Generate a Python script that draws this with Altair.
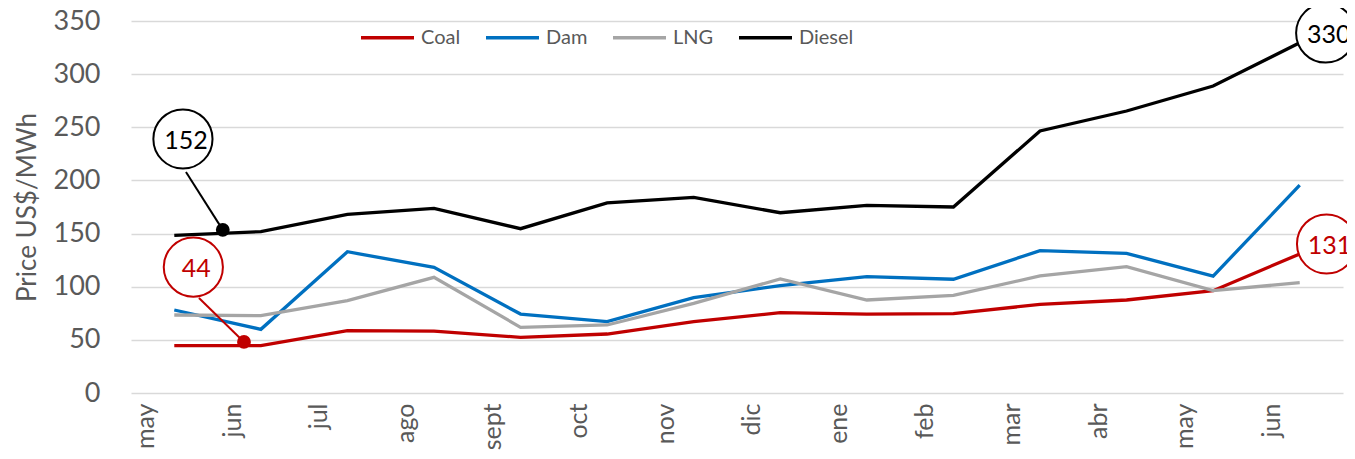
import json
import altair as alt
import pandas as pd

months = ["may", "jun", "jul", "ago", "sept", "oct", "nov", "dic", "ene", "feb", "mar", "abr", "may", "jun"]
series_names = ["Coal", "Dam", "LNG", "Diesel"]
series_colors = ["#C00000", "#0070C0", "#A5A5A5", "#000000"]

coal = [44.5, 44.5, 58.6, 58.3, 52.4, 55.5, 67.1, 75.6, 74.3, 74.6, 83.4, 87.5, 96.3, 130.8]
dam = [78.1, 59.9, 132.9, 118.2, 74.3, 67.1, 89.7, 101.0, 109.4, 107.0, 133.9, 131.4, 110.0, 195.5]
lng = [73.4, 72.8, 86.9, 108.8, 61.8, 64.0, 84.4, 107.3, 87.5, 91.9, 110.1, 118.9, 96.3, 103.8]
diesel = [148.3, 151.8, 168.1, 173.7, 154.6, 178.8, 184.1, 169.6, 176.6, 175.0, 246.5, 265.3, 288.8, 329.5]

# callout bubbles
callout_labels = ["152", "44", "330", "131"]
callout_colors = ["#000000", "#C00000", "#000000", "#C00000"]
callout_x = [0.10, 0.22, 13.30, 13.31]
callout_y = [239.0, 118.5, 338.7, 140.2]

# leader lines + dots
leader_colors = ["#000000", "#C00000"]
leader_x = [0.135, 0.285]
leader_y = [208.0, 89.4]
dot_x = [0.56, 0.805]
dot_y = [153.5, 48.0]

rows = []
for name, vals in zip(series_names, [coal, dam, lng, diesel]):
    for i, v in enumerate(vals):
        rows.append({"idx": i, "series": name, "value": v})
df = pd.DataFrame(rows)

callouts = pd.DataFrame({"x": callout_x, "y": callout_y, "label": callout_labels, "col": callout_colors})
leaders = pd.DataFrame({"x": leader_x, "y": leader_y, "x2": dot_x, "y2": dot_y, "col": leader_colors})

FONT = "Lato"
GRAY = "#595959"

xscale = alt.Scale(domain=[-0.5, 13.5], nice=False, zero=False)
yscale = alt.Scale(domain=[0, 350], nice=False)

label_expr = json.dumps(months) + "[round(datum.value + 0.33)]"

x_axis = alt.Axis(
    values=[i - 0.33 for i in range(len(months))],
    labelExpr=label_expr,
    labelAngle=-90, labelAlign="right", labelBaseline="middle",
    labelFont=FONT, labelFontSize=25, labelColor=GRAY, labelPadding=10,
    grid=False, ticks=False, domain=False, title=None, labelOverlap=False,
)
y_axis = alt.Axis(
    values=[0, 50, 100, 150, 200, 250, 300, 350],
    labelFont=FONT, labelFontSize=27, labelColor=GRAY, labelPadding=31,
    grid=True, gridColor="#D9D9D9", gridWidth=1.5,
    ticks=False, domain=False,
    title="Price US$/MWh", titleFont=FONT, titleFontSize=26, titleFontWeight="normal",
    titleColor=GRAY, titleAngle=-90, titleX=-91, titleY=186, titleAlign="center", titleBaseline="bottom",
)

lines = alt.Chart(df).mark_line(strokeWidth=3.3).encode(
    x=alt.X("idx:Q", scale=xscale, axis=x_axis),
    y=alt.Y("value:Q", scale=yscale, axis=y_axis),
    color=alt.Color(
        "series:N",
        scale=alt.Scale(domain=series_names, range=series_colors),
        legend=alt.Legend(
            orient="none", legendX=228, legendY=-12, direction="horizontal", title=None,
            symbolType="stroke", symbolSize=2809, symbolStrokeWidth=3.5,
            labelFont=FONT, labelFontSize=20, labelColor=GRAY, labelOffset=5,
            columnPadding=18,
        ),
    ),
    order=alt.Order("idx:Q"),
)

leader_rules = alt.Chart(leaders).mark_rule(strokeWidth=2).encode(
    x=alt.X("x:Q", scale=xscale), y=alt.Y("y:Q", scale=yscale),
    x2="x2:Q", y2="y2:Q",
    color=alt.Color("col:N", scale=None),
)

dots = alt.Chart(leaders).mark_point(filled=True, size=190, opacity=1).encode(
    x=alt.X("x2:Q", scale=xscale), y=alt.Y("y2:Q", scale=yscale),
    color=alt.Color("col:N", scale=None),
)

bubbles = alt.Chart(callouts).mark_point(shape="circle", size=3500, filled=False, fill="white",
                                          fillOpacity=1, strokeWidth=2, opacity=1).encode(
    x=alt.X("x:Q", scale=xscale), y=alt.Y("y:Q", scale=yscale),
    stroke=alt.Stroke("col:N", scale=None),
)

texts = alt.Chart(callouts).mark_text(font=FONT, fontSize=25, dx=3, dy=2).encode(
    x=alt.X("x:Q", scale=xscale), y=alt.Y("y:Q", scale=yscale),
    text="label:N",
    color=alt.Color("col:N", scale=None),
)

chart = alt.layer(lines, leader_rules, dots, bubbles, texts).properties(
    width=1212, height=372,
    autosize=alt.AutoSizeParams(type="none"),
    padding={"left": 123, "top": 13, "right": 4, "bottom": 58},
).configure(font=FONT, background="white").configure_view(stroke=None, strokeWidth=0)

chart.save("out.html", embed_options={"renderer": "svg", "actions": False})
